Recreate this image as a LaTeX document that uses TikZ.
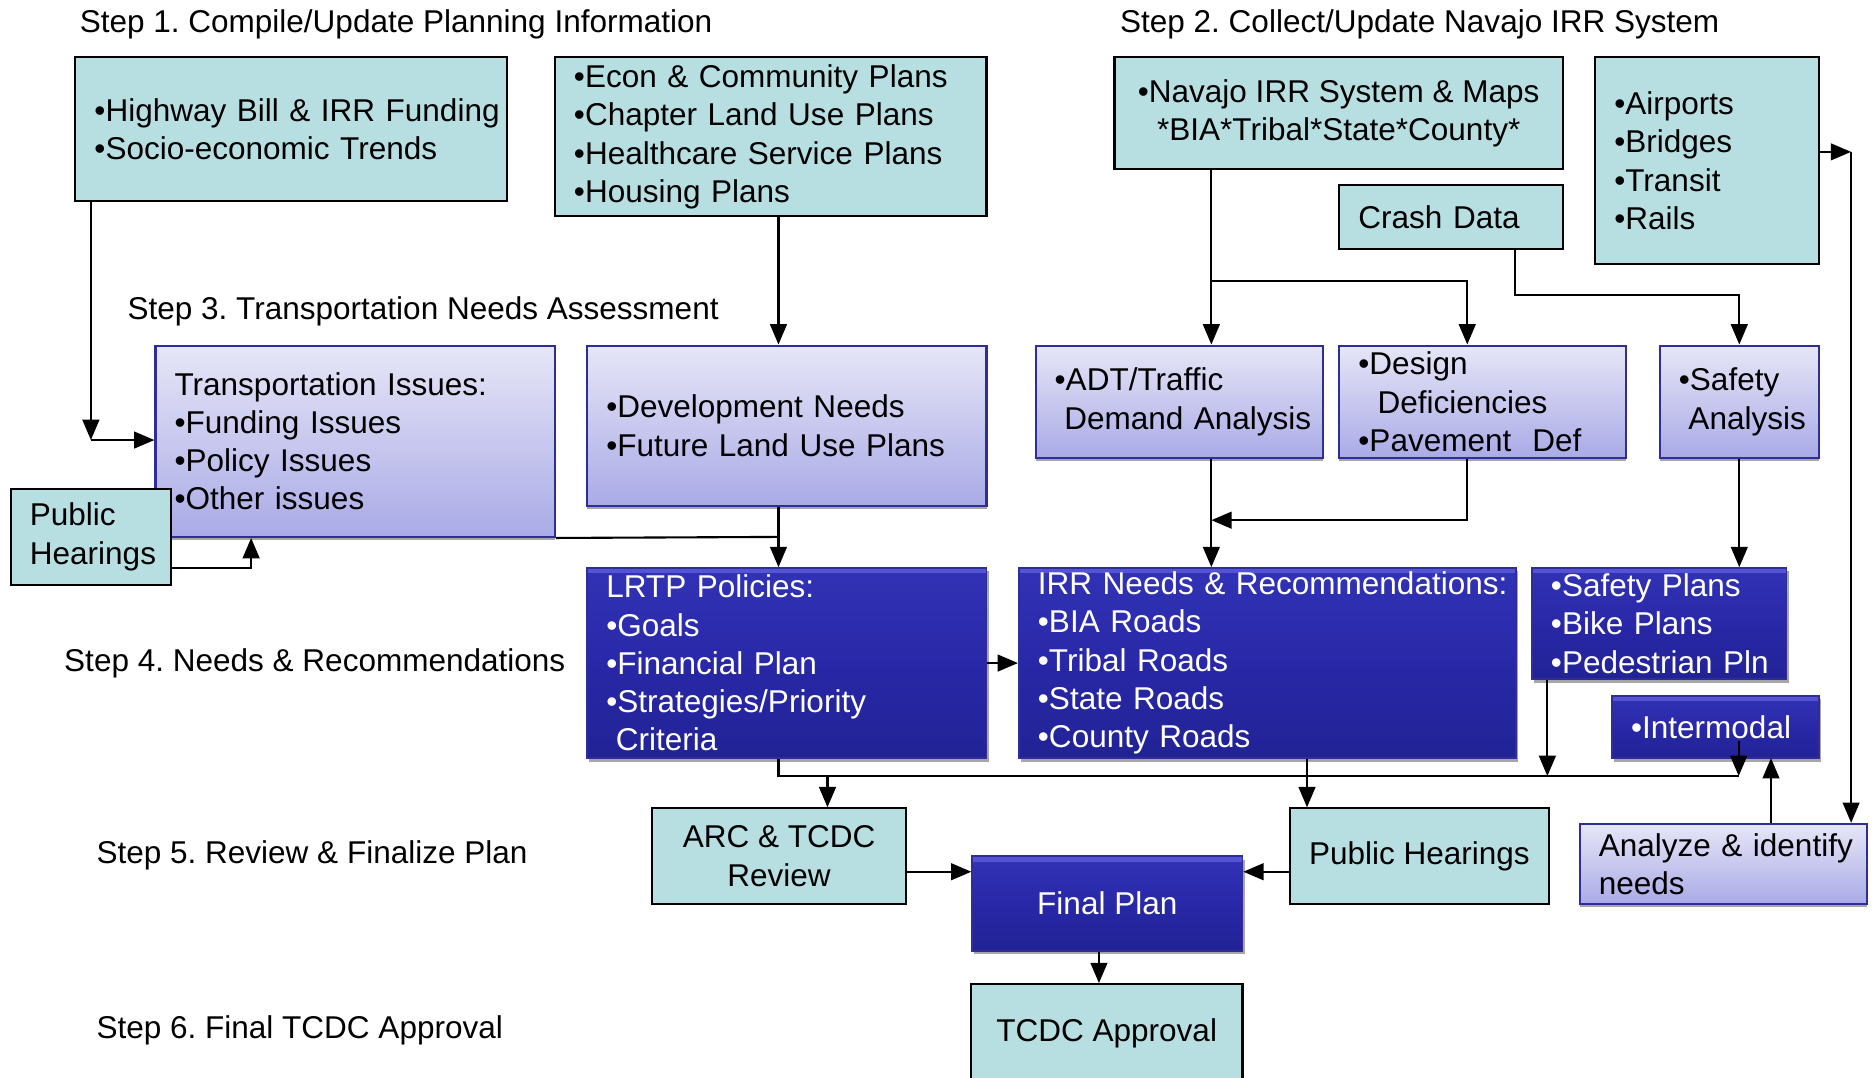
\documentclass[tikz,border=0pt]{standalone}
\usepackage{fontspec}
\setmainfont{Liberation Sans}
\frenchspacing
\usetikzlibrary{arrows.meta,shadows}

\definecolor{cyanfill}{RGB}{183,223,226}
\definecolor{lavtop}{RGB}{230,230,247}
\definecolor{lavbot}{RGB}{170,170,231}
\definecolor{navline}{RGB}{46,46,150}
\definecolor{darkblue}{RGB}{40,40,168}
\definecolor{bluetop}{RGB}{50,50,182}
\definecolor{bluebot}{RGB}{34,34,150}
\definecolor{bevel}{RGB}{84,84,212}

\tikzset{
  lbox/.style 2 args={minimum width=#1cm, text width=#1cm-0.32cm, minimum height=#2cm,
    inner xsep=0.16cm, inner ysep=0pt, align=left,
    execute at begin node={\rightskip=0pt plus 1fil minus 5cm}},
  cbox/.style 2 args={minimum width=#1cm, minimum height=#2cm, inner xsep=0.16cm,
    inner ysep=0pt, align=center},
  aqua/.style={draw=black, line width=0.5pt, fill=cyanfill},
  lav/.style={draw=navline, line width=0.5pt, top color=lavtop, bottom color=lavbot,
    drop shadow={shadow xshift=0pt, shadow yshift=-0.8pt, fill=gray!70, opacity=1}},
  navy/.style={draw=navline, line width=0.4pt, top color=bluetop, bottom color=bluebot,
    middle color=darkblue, text=white,
    path picture={\fill[bevel] (path picture bounding box.north west)
      rectangle ([yshift=-1.3pt]path picture bounding box.north east);},
    drop shadow={shadow xshift=0.5pt, shadow yshift=-0.8pt, fill=gray!70, opacity=1}},
  steplabel/.style={anchor=west, inner sep=0pt},
  link/.style={line width=0.5pt},
}

\begin{document}
\begin{tikzpicture}[x=1cm, y=-1cm, >={Triangle[length=1.7mm, width=1.4mm]},
    font=\fontsize{7.5}{9.1}\selectfont]
    \useasboundingbox (0,0) rectangle (15.68,9.01);

    % Step 1
    \node[steplabel] (s1) at (0.66,0.20) {Step 1. Compile/Update Planning Information};
    \node[aqua, lbox={3.61}{1.20}] (hwy) at (2.435,1.08) {•Highway Bill \& IRR Funding\\•Socio-economic Trends};
    \node[aqua, lbox={3.61}{1.33}] (econ) at (6.445,1.145) {•Econ \& Community Plans\\•Chapter Land Use Plans\\•Healthcare Service Plans\\•Housing Plans};

    % Step 2
    \node[steplabel] (s2) at (9.36,0.20) {Step 2. Collect/Update Navajo IRR System};
    \node[aqua, cbox={3.75}{0.93}] (navajo) at (11.195,0.945) {•Navajo IRR System \& Maps\\{}*BIA*Tribal*State*County*};
    \node[aqua, lbox={1.87}{1.73}] (airp) at (14.275,1.345) {•Airports\\•Bridges\\•Transit\\•Rails};
    \node[aqua, lbox={1.87}{0.53}] (crash) at (12.135,1.815) {Crash Data};

    % Step 3
    \node[steplabel] (s3) at (1.06,2.60) {Step 3. Transportation Needs Assessment};
    \node[lav, lbox={3.34}{1.60}] (trans) at (2.97,3.69) {Transportation Issues:\\•Funding Issues\\•Policy Issues\\•Other issues};
    \node[lav, lbox={3.34}{1.34}] (devel) at (6.58,3.56) {•Development Needs\\•Future Land Use Plans};
    \node[lav, lbox={2.40}{0.94}] (adt) at (9.86,3.36) {•ADT/Traffic\\\hspace*{0.08cm}Demand Analysis};
    \node[lav, lbox={2.40}{0.94}] (design) at (12.40,3.36) {•Design\\\hspace*{0.16cm}Deficiencies\\•Pavement\ \ Def};
    \node[lav, lbox={1.33}{0.94}] (safety) at (14.545,3.36) {•Safety\\\hspace*{0.08cm}Analysis};
    \node[aqua, lbox={1.34}{0.80}] (pubhear) at (0.76,4.49) {Public\\Hearings};

    % Step 4
    \node[steplabel] (s4) at (0.53,5.55) {Step 4. Needs \& Recommendations};
    \node[navy, lbox={3.34}{1.59}] (lrtp) at (6.58,5.545) {LRTP Policies:\\•Goals\\•Financial Plan\\•Strategies/Priority\\\hspace*{0.08cm}Criteria};
    \node[navy, lbox={4.16}{1.59}] (irr) at (10.60,5.545) {IRR Needs \& Recommendations:\\•BIA Roads\\•Tribal Roads\\•State Roads\\•County Roads};
    \node[navy, lbox={2.13}{0.93}] (safplans) at (13.875,5.215) {•Safety Plans\\•Bike Plans\\•Pedestrian Pln};
    \node[navy, lbox={1.73}{0.52}] (inter) at (14.345,6.08) {•Intermodal};

    % Step 5
    \node[steplabel] (s5) at (0.80,7.15) {Step 5. Review \& Finalize Plan};
    \node[aqua, cbox={2.13}{0.80}] (arc) at (6.515,7.16) {ARC \& TCDC\\Review};
    \node[navy, cbox={2.26}{0.79}] (final) at (9.26,7.555) {Final Plan};
    \node[aqua, cbox={2.14}{0.80}] (pubhear2) at (11.87,7.16) {Public Hearings};
    \node[lav, lbox={2.40}{0.67}] (analyze) at (14.41,7.225) {Analyze \& identify\\needs};

    % Step 6
    \node[steplabel] (s6) at (0.80,8.62) {Step 6. Final TCDC Approval};
    \node[aqua, cbox={2.27}{0.82}] (tcdc) at (9.255,8.64) {TCDC Approval};

    % Turning points
    \coordinate (hwyturn) at (0.76,3.68);
    \coordinate (develin) at (6.51,4.49);
    \coordinate (hearturn) at (2.10,4.75);
    \coordinate (navsplit) at (10.13,2.35);
    \coordinate (designin) at (12.27,2.35);
    \coordinate (crashturn) at (12.67,2.47);
    \coordinate (airpturn) at (15.48,1.27);
    \coordinate (designjoin) at (10.13,4.35);
    \coordinate (busleft) at (6.51,6.49);
    \coordinate (busright) at (14.54,6.49);
    \coordinate (arcin) at (6.92,6.49);
    \coordinate (irrout) at (10.93,6.49);
    \coordinate (safout) at (12.94,6.49);
    \coordinate (interout) at (14.54,6.20);
    \coordinate (interin) at (14.81,6.34);
    \coordinate (row5) at (9.26,7.29);
    \coordinate (finalout) at (9.19,7.95);

    % Arrows
    \draw[->, link] (hwy.south -| hwyturn) -- (hwyturn);
    \draw[->, link] (hwyturn) -- (trans.west |- hwyturn);
    \draw[->, link] (econ.south -| develin) -- (devel.north -| develin);
    \draw[->, link] (devel.south -| develin) -- (lrtp.north -| develin);
    \draw[link] (trans.south east) -- (develin);
    \draw[->, link] (pubhear.east |- hearturn) -- (hearturn) -- (trans.south -| hearturn);
    \draw[->, link] (navajo.south -| navsplit) -- (adt.north -| navsplit);
    \draw[->, link] (navsplit) -- (designin) -- (design.north -| designin);
    \draw[->, link] (crash.south -| crashturn) -- (crashturn) -| (safety.north);
    \draw[->, link] (airp.east |- airpturn) -- (airpturn);
    \draw[->, link] (airpturn) -- (analyze.north -| airpturn);
    \draw[->, link] (adt.south -| navsplit) -- (irr.north -| navsplit);
    \draw[->, link] (design.south -| designin) |- (designjoin);
    \draw[->, link] (safety.south) -- (safety.south |- safplans.north);
    \draw[->, link] (lrtp.east) -- (irr.west);
    \draw[link] (lrtp.south -| busleft) -- (busleft) -- (busright);
    \draw[->, link] (arcin) -- (arc.north -| arcin);
    \draw[->, link] (irr.south -| irrout) -- (pubhear2.north -| irrout);
    \draw[->, link] (safplans.south -| safout) -- (safout);
    \draw[->, link] (interout) -- (busright);
    \draw[->, link] (analyze.north -| interin) -- (interin);
    \draw[->, link] (arc.east |- row5) -- (final.west |- row5);
    \draw[->, link] (pubhear2.west |- row5) -- (final.east |- row5);
    \draw[->, link] (final.south -| finalout) -- (tcdc.north -| finalout);
\end{tikzpicture}
\end{document}
